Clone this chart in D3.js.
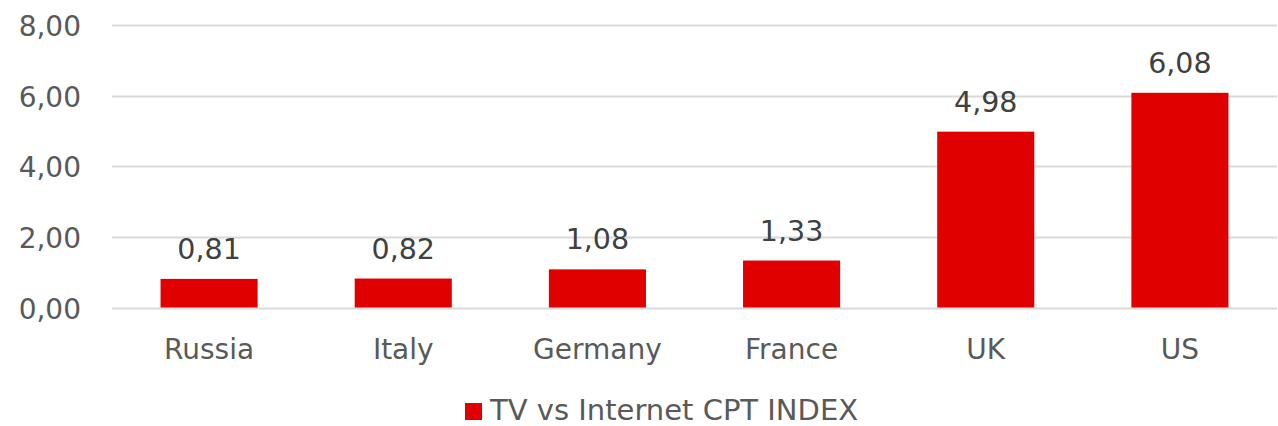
<!DOCTYPE html>
<html>
<head>
<meta charset="utf-8">
<script src="https://cdn.jsdelivr.net/npm/d3@7"></script>
<style>
  body { margin: 0; background: #fff; }
  svg text { font-family: "DejaVu Sans", sans-serif; }
</style>
</head>
<body>
<script>
// chart data
const countries = ['Russia', 'Italy', 'Germany', 'France', 'UK', 'US'];
const cptIndex = [0.81, 0.82, 1.08, 1.33, 4.98, 6.08];
const yTicks = [0, 2, 4, 6, 8];
const seriesName = 'TV vs Internet CPT INDEX';

const W = 1278, H = 426;
const fmt = d => d.toFixed(2).replace('.', ',');

const svg = d3.select('body').append('svg')
    .attr('width', W)
    .attr('height', H);

const x = d3.scaleBand().domain(countries).range([112, 1277]).paddingInner(0.5).paddingOuter(0.25);
const y = d3.scaleLinear().domain([0, 8]).range([307.5, 25]);

// gridlines
svg.append('g')
    .selectAll('line')
    .data(yTicks)
    .enter()
    .append('line')
    .attr('x1', 112)
    .attr('x2', 1277)
    .attr('y1', d => Math.round(y(d)) + 0.5)
    .attr('y2', d => Math.round(y(d)) + 0.5)
    .style('stroke', '#d9d9d9')
    .style('stroke-width', 2);

// y axis labels
svg.append('g')
    .selectAll('text')
    .data(yTicks)
    .enter()
    .append('text')
    .attr('x', 81)
    .attr('y', d => y(d) + 11)
    .attr('text-anchor', 'end')
    .style('font-size', '28px')
    .style('fill', '#595959')
    .text(fmt);

// bars
svg.append('g')
    .selectAll('rect')
    .data(cptIndex)
    .enter()
    .append('rect')
    .attr('x', (d, i) => x(countries[i]))
    .attr('y', d => y(d))
    .attr('width', x.bandwidth())
    .attr('height', d => y(0) - y(d))
    .style('fill', '#e00000');

// value labels
svg.append('g')
    .selectAll('text')
    .data(cptIndex)
    .enter()
    .append('text')
    .attr('x', (d, i) => x(countries[i]) + x.bandwidth() / 2)
    .attr('y', d => y(d) - 20)
    .attr('text-anchor', 'middle')
    .style('font-size', '28.5px')
    .style('fill', '#404040')
    .text(fmt);

// category labels
svg.append('g')
    .selectAll('text')
    .data(countries)
    .enter()
    .append('text')
    .attr('x', d => x(d) + x.bandwidth() / 2)
    .attr('y', 359)
    .attr('text-anchor', 'middle')
    .style('font-size', '28px')
    .style('fill', '#595959')
    .text(d => d);

// legend
const legend = svg.append('g');
legend.append('rect')
    .attr('x', 465)
    .attr('y', 403)
    .attr('width', 17)
    .attr('height', 17)
    .style('fill', '#e00000');
legend.append('text')
    .attr('x', 490)
    .attr('y', 420)
    .style('font-size', '29px')
    .style('fill', '#595959')
    .text(seriesName);
</script>
</body>
</html>
